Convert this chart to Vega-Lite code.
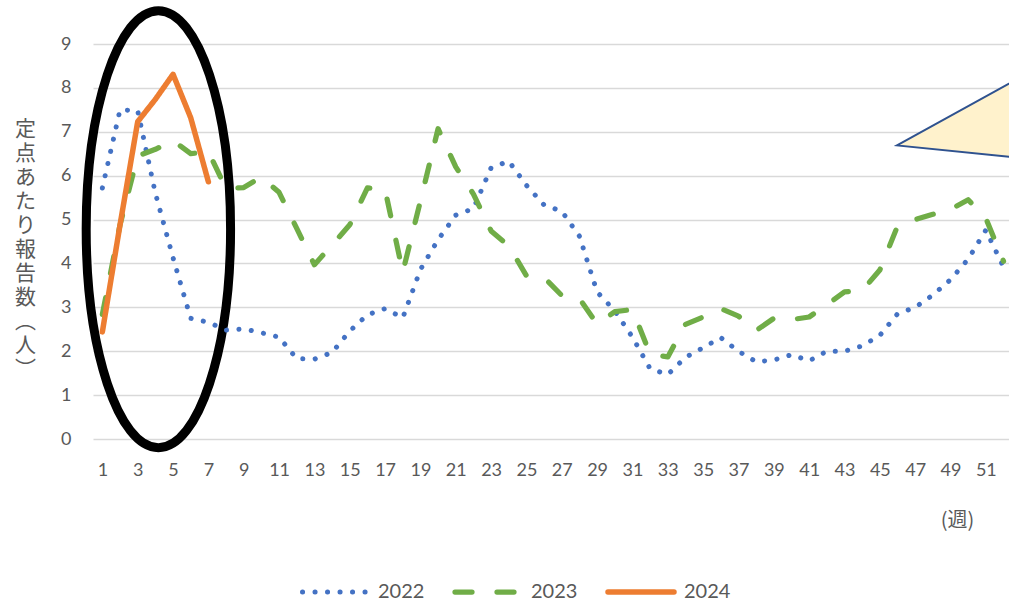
{
  "$schema": "https://vega.github.io/schema/vega-lite/v6.json",
  "width": 916,
  "height": 395,
  "autosize": {"type": "none"},
  "padding": {"left": 93, "top": 44, "right": 0, "bottom": 164},
  "background": "white",
  "config": {"view": {"stroke": null}, "font": "Lato"},
  "datasets": {
    "weekly": [
      {"week": 1, "year": "2022", "value": 5.72}, {"week": 2, "year": "2022", "value": 7.5}, {"week": 3, "year": "2022", "value": 7.48}, {"week": 4, "year": "2022", "value": 5.6}, {"week": 5, "year": "2022", "value": 4.13}, {"week": 6, "year": "2022", "value": 2.75}, {"week": 7, "year": "2022", "value": 2.66}, {"week": 8, "year": "2022", "value": 2.48}, {"week": 9, "year": "2022", "value": 2.51}, {"week": 10, "year": "2022", "value": 2.42},
      {"week": 11, "year": "2022", "value": 2.32}, {"week": 12, "year": "2022", "value": 1.83}, {"week": 13, "year": "2022", "value": 1.82}, {"week": 14, "year": "2022", "value": 1.97}, {"week": 15, "year": "2022", "value": 2.46}, {"week": 16, "year": "2022", "value": 2.83}, {"week": 17, "year": "2022", "value": 2.97}, {"week": 18, "year": "2022", "value": 2.76}, {"week": 19, "year": "2022", "value": 3.86}, {"week": 20, "year": "2022", "value": 4.54},
      {"week": 21, "year": "2022", "value": 5.1}, {"week": 22, "year": "2022", "value": 5.25}, {"week": 23, "year": "2022", "value": 6.18}, {"week": 24, "year": "2022", "value": 6.33}, {"week": 25, "year": "2022", "value": 5.78}, {"week": 26, "year": "2022", "value": 5.33}, {"week": 27, "year": "2022", "value": 5.19}, {"week": 28, "year": "2022", "value": 4.62}, {"week": 29, "year": "2022", "value": 3.35}, {"week": 30, "year": "2022", "value": 2.92},
      {"week": 31, "year": "2022", "value": 2.32}, {"week": 32, "year": "2022", "value": 1.6}, {"week": 33, "year": "2022", "value": 1.47}, {"week": 34, "year": "2022", "value": 1.86}, {"week": 35, "year": "2022", "value": 2.08}, {"week": 36, "year": "2022", "value": 2.31}, {"week": 37, "year": "2022", "value": 2.0}, {"week": 38, "year": "2022", "value": 1.76}, {"week": 39, "year": "2022", "value": 1.8}, {"week": 40, "year": "2022", "value": 1.92},
      {"week": 41, "year": "2022", "value": 1.78}, {"week": 42, "year": "2022", "value": 2.0}, {"week": 43, "year": "2022", "value": 2.0}, {"week": 44, "year": "2022", "value": 2.12}, {"week": 45, "year": "2022", "value": 2.36}, {"week": 46, "year": "2022", "value": 2.85}, {"week": 47, "year": "2022", "value": 3.0}, {"week": 48, "year": "2022", "value": 3.28}, {"week": 49, "year": "2022", "value": 3.63}, {"week": 50, "year": "2022", "value": 4.1},
      {"week": 51, "year": "2022", "value": 4.76}, {"week": 52, "year": "2022", "value": 3.92},
      {"week": 1, "year": "2023", "value": 2.84}, {"week": 2, "year": "2023", "value": 4.88}, {"week": 3, "year": "2023", "value": 6.45}, {"week": 4, "year": "2023", "value": 6.6}, {"week": 5, "year": "2023", "value": 6.8}, {"week": 6, "year": "2023", "value": 6.5}, {"week": 7, "year": "2023", "value": 6.55}, {"week": 8, "year": "2023", "value": 5.7}, {"week": 9, "year": "2023", "value": 5.73}, {"week": 10, "year": "2023", "value": 5.97},
      {"week": 11, "year": "2023", "value": 5.62}, {"week": 12, "year": "2023", "value": 4.8}, {"week": 13, "year": "2023", "value": 3.97}, {"week": 14, "year": "2023", "value": 4.42}, {"week": 15, "year": "2023", "value": 4.88}, {"week": 16, "year": "2023", "value": 5.72}, {"week": 17, "year": "2023", "value": 5.68}, {"week": 18, "year": "2023", "value": 3.8}, {"week": 19, "year": "2023", "value": 5.42}, {"week": 20, "year": "2023", "value": 7.07},
      {"week": 21, "year": "2023", "value": 6.2}, {"week": 22, "year": "2023", "value": 5.58}, {"week": 23, "year": "2023", "value": 4.74}, {"week": 24, "year": "2023", "value": 4.4}, {"week": 25, "year": "2023", "value": 3.72}, {"week": 26, "year": "2023", "value": 3.68}, {"week": 27, "year": "2023", "value": 3.27}, {"week": 28, "year": "2023", "value": 3.2}, {"week": 29, "year": "2023", "value": 2.62}, {"week": 30, "year": "2023", "value": 2.9},
      {"week": 31, "year": "2023", "value": 2.95}, {"week": 32, "year": "2023", "value": 1.93}, {"week": 33, "year": "2023", "value": 1.87}, {"week": 34, "year": "2023", "value": 2.61}, {"week": 35, "year": "2023", "value": 2.78}, {"week": 36, "year": "2023", "value": 2.97}, {"week": 37, "year": "2023", "value": 2.8}, {"week": 38, "year": "2023", "value": 2.47}, {"week": 39, "year": "2023", "value": 2.75}, {"week": 40, "year": "2023", "value": 2.72},
      {"week": 41, "year": "2023", "value": 2.78}, {"week": 42, "year": "2023", "value": 3.06}, {"week": 43, "year": "2023", "value": 3.35}, {"week": 44, "year": "2023", "value": 3.38}, {"week": 45, "year": "2023", "value": 3.85}, {"week": 46, "year": "2023", "value": 4.85}, {"week": 47, "year": "2023", "value": 5.0}, {"week": 48, "year": "2023", "value": 5.12}, {"week": 49, "year": "2023", "value": 5.23}, {"week": 50, "year": "2023", "value": 5.45},
      {"week": 51, "year": "2023", "value": 5.03}, {"week": 52, "year": "2023", "value": 4.05},
      {"week": 1, "year": "2024", "value": 2.44}, {"week": 2, "year": "2024", "value": 4.88}, {"week": 3, "year": "2024", "value": 7.23}, {"week": 4, "year": "2024", "value": 7.74}, {"week": 5, "year": "2024", "value": 8.31}, {"week": 6, "year": "2024", "value": 7.32}, {"week": 7, "year": "2024", "value": 5.86}
    ]
  },
  "encoding": {
    "x": {
      "field": "week", "type": "quantitative",
      "scale": {"domain": [0.47, 52.31], "nice": false, "zero": false},
      "axis": {
        "values": [1, 3, 5, 7, 9, 11, 13, 15, 17, 19, 21, 23, 25, 27, 29, 31, 33, 35, 37, 39, 41, 43, 45, 47, 49, 51],
        "format": "d", "grid": false, "domain": false, "ticks": false, "tickSize": 0,
        "labelPadding": 31, "labelBaseline": "middle", "labelFontSize": 18, "labelColor": "#595959", "labelFont": "Lato",
        "labelFlush": false, "labelOverlap": false,
        "title": "(週)", "titleX": 864, "titleY": 81, "titleAlign": "center", "titleBaseline": "middle",
        "titleFont": "Noto Sans CJK JP", "titleFontSize": 20, "titleFontWeight": "normal", "titleColor": "#595959"
      }
    },
    "y": {
      "field": "value", "type": "quantitative",
      "scale": {"domain": [0, 9], "nice": false, "zero": true},
      "axis": {
        "values": [0, 1, 2, 3, 4, 5, 6, 7, 8, 9],
        "grid": true, "gridColor": "#D9D9D9", "gridWidth": 1.5,
        "domain": false, "ticks": false, "tickSize": 0,
        "labelPadding": 22, "labelFontSize": 18, "labelColor": "#595959", "labelFont": "Lato",
        "title": ["定", "点", "あ", "た", "り", "報", "告", "数", "︵", "人", "︶"],
        "titleAngle": 0, "titleX": -68, "titleY": 85, "titleAlign": "center", "titleBaseline": "middle",
        "titleLineHeight": 24, "titleFont": "Noto Sans CJK JP", "titleFontSize": 21, "titleFontWeight": "normal", "titleColor": "#595959"
      }
    }
  },
  "layer": [
    {
      "data": {"values": [{"week": 4.17, "value": 4.78}]},
      "mark": {"type": "point", "shape": "M -0.3304 0 A 0.3304 1 0 1 0 0.3304 0 A 0.3304 1 0 1 0 -0.3304 0 Z", "size": 190969, "filled": false, "stroke": "#000000", "strokeWidth": 9, "opacity": 1}
    },
    {
      "data": {"values": [{"week": 45.97, "value": 6.69}]},
      "mark": {"type": "point", "shape": "M 0 0 L 200 -110.4 L 200 20.3 Z", "size": 4, "filled": true, "fill": "#FFF2CC", "stroke": "#2F528F", "strokeWidth": 2, "opacity": 1}
    },
    {
      "data": {"name": "weekly"},
      "mark": {"type": "line", "strokeCap": "round", "strokeJoin": "round"},
      "encoding": {
        "color": {
          "field": "year", "type": "nominal",
          "scale": {"domain": ["2022", "2023", "2024"], "range": ["#4472C4", "#70AD47", "#ED7D31"]},
          "legend": {"title": null, "orient": "none", "legendX": 207, "legendY": 536, "direction": "horizontal", "symbolType": "stroke", "symbolSize": 4356, "symbolStrokeWidth": 4.5, "clipHeight": 24, "labelFontSize": 20, "labelColor": "#595959", "labelFont": "Lato", "labelOffset": 7, "columnPadding": 27, "padding": 0, "encode": {"symbols": {"update": {"strokeCap": {"value": "round"}}}}}
        },
        "strokeDash": {
          "field": "year", "type": "nominal",
          "scale": {"domain": ["2022", "2023", "2024"], "range": [[0.1, 12.4], [17, 25], [1, 0]]},
          "legend": {"title": null, "orient": "none", "legendX": 207, "legendY": 536, "direction": "horizontal", "symbolType": "stroke", "symbolSize": 4356, "symbolStrokeWidth": 4.5, "clipHeight": 24, "labelFontSize": 20, "labelColor": "#595959", "labelFont": "Lato", "labelOffset": 7, "columnPadding": 27, "padding": 0, "encode": {"symbols": {"update": {"strokeCap": {"value": "round"}}}}}
        },
        "strokeWidth": {
          "field": "year", "type": "ordinal",
          "scale": {"domain": ["2022", "2023", "2024"], "range": [5, 5.5, 4]},
          "legend": null
        }
      }
    }
  ]
}
